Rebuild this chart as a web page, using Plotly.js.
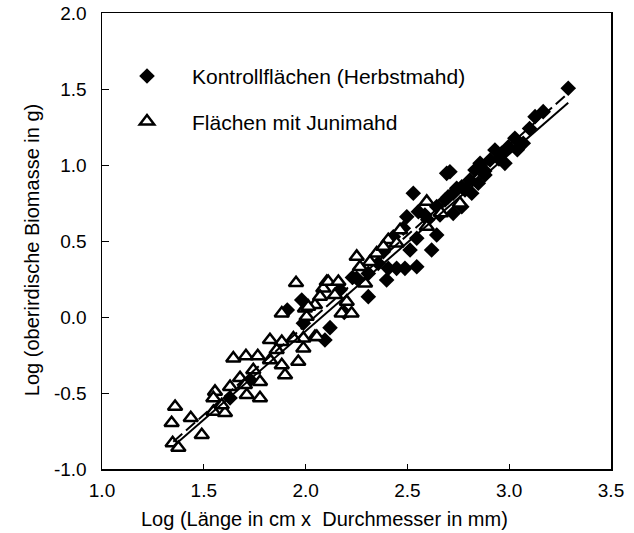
<!DOCTYPE html>
<html>
<head>
<meta charset="utf-8">
<script src="https://cdn.plot.ly/plotly-3.0.1.min.js"></script>
<style>html,body{margin:0;padding:0;background:#fff;}#chart{width:634px;height:533px;}</style>
</head>
<body>
<div id="chart"></div>
<script>
// Kontrollflächen (Herbstmahd) – filled diamonds
var kontrollX = [1.910, 1.981, 2.095, 2.529, 2.693, 2.644, 2.554, 2.497, 2.480, 2.644, 2.546, 2.513, 2.619, 2.431, 2.382, 2.406, 2.447, 2.488, 2.546, 2.398, 2.308, 2.308, 2.251, 1.989, 2.709, 2.742, 2.725, 2.357, 3.290, 3.167, 3.127, 3.069, 3.028, 2.996, 2.963, 2.979, 2.857, 2.832, 2.767, 2.848, 2.725, 2.816, 2.767, 2.906, 2.930, 2.881, 2.807, 2.783, 2.685, 2.660, 2.586, 3.100, 2.120, 2.190, 1.727, 1.629, 2.170, 2.230, 2.600, 2.700, 2.880, 2.950, 3.040];
var kontrollY = [0.046, 0.112, -0.151, 0.814, 0.945, 0.726, 0.693, 0.660, 0.584, 0.539, 0.518, 0.441, 0.441, 0.528, 0.430, 0.320, 0.320, 0.320, 0.331, 0.243, 0.287, 0.134, 0.255, -0.041, 0.956, 0.847, 0.682, 0.353, 1.505, 1.351, 1.318, 1.143, 1.176, 1.120, 1.077, 1.011, 1.011, 0.967, 0.857, 0.880, 0.814, 0.814, 0.726, 1.033, 1.099, 0.934, 0.901, 0.836, 0.770, 0.671, 0.671, 1.240, -0.070, 0.030, -0.414, -0.533, 0.180, 0.260, 0.640, 0.790, 0.960, 1.040, 1.100];

// Flächen mit Junimahd – open triangles
var junimahdX = [1.359, 1.342, 1.436, 1.490, 1.347, 1.375, 1.547, 1.604, 1.588, 1.555, 1.547, 1.629, 1.678, 1.711, 1.776, 1.776, 1.743, 1.645, 1.707, 1.765, 1.825, 1.899, 1.964, 1.883, 1.825, 1.883, 1.858, 1.989, 2.046, 1.989, 1.940, 1.883, 2.005, 1.997, 2.087, 2.104, 2.046, 1.702, 2.595, 2.406, 2.349, 2.251, 2.292, 2.111, 2.161, 2.144, 2.202, 2.177, 2.226, 2.013, 2.055, 2.382, 2.447, 2.595, 2.071, 2.758, 1.953, 2.267, 2.316, 2.464, 2.665];
var junimahdY = [-0.590, -0.697, -0.664, -0.776, -0.829, -0.860, -0.623, -0.630, -0.579, -0.491, -0.533, -0.459, -0.401, -0.513, -0.533, -0.426, -0.349, -0.272, -0.257, -0.257, -0.283, -0.382, -0.294, -0.316, -0.151, -0.163, -0.217, -0.206, -0.130, -0.140, -0.140, 0.024, 0.002, 0.057, 0.189, 0.232, 0.079, -0.447, 0.759, 0.507, 0.419, 0.397, 0.222, 0.232, 0.232, 0.145, 0.101, 0.024, 0.024, 0.068, -0.130, 0.463, 0.485, 0.594, 0.134, 0.748, 0.224, 0.329, 0.362, 0.572, 0.684];

// Regression lines (end points)
var kontrollFitX = [1.35, 3.28];
var kontrollFitY = [-0.82, 1.46];
var junimahdFitX = [1.35, 3.29];
var junimahdFitY = [-0.85, 1.41];

var labels = ['Kontrollflächen (Herbstmahd)', 'Flächen mit Junimahd'];
var xTitle = 'Log (Länge in cm x  Durchmesser in mm)';
var yTitle = 'Log (oberirdische Biomasse in g)';
var xTicks = [1.0, 1.5, 2.0, 2.5, 3.0, 3.5];
var yTicks = [-1.0, -0.5, 0.0, 0.5, 1.0, 1.5, 2.0];

var traces = [
  {x: kontrollX, y: kontrollY, type: 'scatter', mode: 'markers', name: labels[0],
   legendgroup: 'k', marker: {symbol: 'diamond', size: 12, color: '#000', line: {width: 0}}},
  {x: junimahdX, y: junimahdY, type: 'scatter', mode: 'markers', name: labels[1],
   legendgroup: 'j', marker: {symbol: 'triangle-up', size: 12.5, color: '#fff', line: {width: 2.5, color: '#000'}}},
  {x: kontrollFitX, y: kontrollFitY, type: 'scatter', mode: 'lines', showlegend: false,
   line: {color: '#000', width: 2, dash: '12px,5px'}},
  {x: junimahdFitX, y: junimahdFitY, type: 'scatter', mode: 'lines', showlegend: false,
   line: {color: '#000', width: 2}}
];

var fam = 'Liberation Sans, Arial, sans-serif';
var tickFont = {family: fam, size: 19, color: '#000'};
var titleFont = {family: fam, size: 20, color: '#000'};

var layout = {
  width: 634, height: 533,
  margin: {l: 102, r: 23, t: 13, b: 64},
  paper_bgcolor: '#fff', plot_bgcolor: '#fff',
  font: tickFont,
  showlegend: true,
  legend: {x: 0, y: 0.906, xanchor: 'left', yanchor: 'top', bgcolor: 'rgba(0,0,0,0)',
           font: {family: fam, size: 21, color: '#000'},
           traceorder: 'grouped', tracegroupgap: 15, itemwidth: 80},
  xaxis: {range: [1.0, 3.5], tickvals: xTicks, ticktext: xTicks.map(function(v){return v.toFixed(1);}),
          showline: true, linecolor: '#000', linewidth: 1.5, mirror: true,
          ticks: 'inside', ticklen: 5, tickcolor: '#000', tickwidth: 1,
          showgrid: false, zeroline: false, tickfont: tickFont, ticklabelstandoff: 4},
  yaxis: {range: [-1.0, 2.0], tickvals: yTicks, ticktext: yTicks.map(function(v){return v.toFixed(1);}),
          showline: true, linecolor: '#000', linewidth: 1.5, mirror: true,
          ticks: 'inside', ticklen: 7, tickcolor: '#000', tickwidth: 1,
          showgrid: false, zeroline: false, tickfont: tickFont, ticklabelstandoff: 10},
  annotations: [
    {text: xTitle, xref: 'paper', yref: 'paper', x: 0.438, y: -0.1096,
     xanchor: 'center', yanchor: 'middle', showarrow: false, font: titleFont},
    {text: yTitle, xref: 'paper', yref: 'paper', x: -0.1375, y: 0.480, textangle: -90,
     xanchor: 'center', yanchor: 'middle', showarrow: false, font: titleFont}
  ]
};

Plotly.newPlot('chart', traces, layout, {displayModeBar: false, staticPlot: true});
</script>
</body>
</html>
